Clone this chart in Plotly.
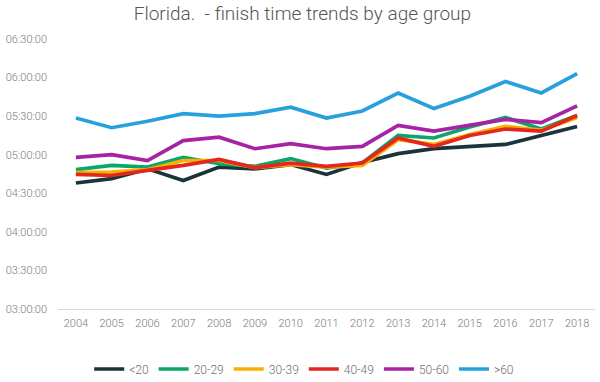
import plotly.graph_objects as go

years = [str(y) for y in range(2004, 2019)]

under20 = ["4:38:00", "4:41:20", "4:49:00", "4:40:00", "4:50:20", "4:49:00", "4:52:20", "4:44:40",
           "4:54:00", "5:00:50", "5:04:40", "5:06:30", "5:08:00", "5:15:00", "5:22:00"]
age20_29 = ["4:48:20", "4:51:40", "4:50:20", "4:58:00", "4:53:00", "4:51:00", "4:57:00", "4:49:40",
            "4:53:30", "5:15:00", "5:13:00", "5:21:30", "5:29:00", "5:20:00", "5:30:30"]
age30_39 = ["4:46:00", "4:46:30", "4:48:20", "4:55:30", "4:55:30", "4:50:00", "4:52:20", "4:50:20",
            "4:51:40", "5:11:40", "5:08:00", "5:15:40", "5:22:00", "5:19:00", "5:29:00"]
age40_49 = ["4:44:40", "4:43:50", "4:47:50", "4:51:40", "4:56:20", "4:50:00", "4:53:30", "4:51:00",
            "4:53:30", "5:13:00", "5:06:30", "5:15:00", "5:20:00", "5:18:20", "5:30:30"]
age50_60 = ["4:58:00", "5:00:00", "4:55:30", "5:11:00", "5:13:40", "5:04:40", "5:08:40", "5:04:40",
            "5:06:30", "5:22:50", "5:18:20", "5:23:00", "5:27:30", "5:25:00", "5:38:00"]
over60 = ["5:28:30", "5:21:00", "5:26:00", "5:32:00", "5:30:00", "5:32:00", "5:37:00", "5:28:30",
          "5:34:00", "5:48:00", "5:36:00", "5:45:30", "5:57:00", "5:48:00", "6:03:00"]

series_names = ["<20", "20-29", "30-39", "40-49", "50-60", ">60"]
series_values = [under20, age20_29, age30_39, age40_49, age50_60, over60]
colors = ["#1b333a", "#0aa66a", "#f8b000", "#e3261f", "#a624a3", "#28a0dd"]

tick_labels = ["03:00:00", "03:30:00", "04:00:00", "04:30:00", "05:00:00", "05:30:00", "06:00:00", "06:30:00"]


def to_dt(t):
    h, m, s = t.split(":")
    return "1970-01-01 %02d:%02d:%02d" % (int(h), int(m), int(s))


fig = go.Figure()
for name, vals, col in zip(series_names, series_values, colors):
    fig.add_trace(go.Scatter(
        x=years, y=[to_dt(v) for v in vals], name=name, mode="lines",
        line=dict(color=col, width=3.7),
    ))

tickfont = dict(family="Roboto", size=11, color="#7a7a7a", weight=300)

fig.update_layout(
    width=600, height=382,
    margin=dict(l=58, r=5, t=39, b=73, autoexpand=False),
    paper_bgcolor="white", plot_bgcolor="white",
    font=dict(family="Roboto", color="#777777", size=11),
    title=dict(text="Florida.  - finish time trends by age group", xref="container",
               x=0.504, xanchor="center", yref="container", y=0.966, yanchor="middle",
               font=dict(family="Roboto", size=19, color="#555555", weight=300)),
    showlegend=True,
    legend=dict(orientation="h", xref="container", x=0.507, xanchor="center",
                yref="container", y=0.034, yanchor="middle",
                font=dict(family="Roboto", size=12, color="#6f6f6f", weight=300),
                itemwidth=30, tracegroupgap=0),
    xaxis=dict(type="category", range=[-0.5, 14.5], showgrid=False, showline=True,
               linecolor="#d6d6d6", linewidth=1, ticks="", automargin=False,
               ticklabelstandoff=4, tickfont=tickfont),
    yaxis=dict(type="date",
               range=[to_dt(tick_labels[0]), to_dt(tick_labels[-1])],
               tickvals=[to_dt(t) for t in tick_labels], ticktext=tick_labels,
               showgrid=False, zeroline=False, showline=False, ticks="", automargin=False,
               ticklabelstandoff=10, tickfont=tickfont),
)

fig.write_html("out.html", config={"displayModeBar": False},
               post_script="document.body.style.margin='0';")
